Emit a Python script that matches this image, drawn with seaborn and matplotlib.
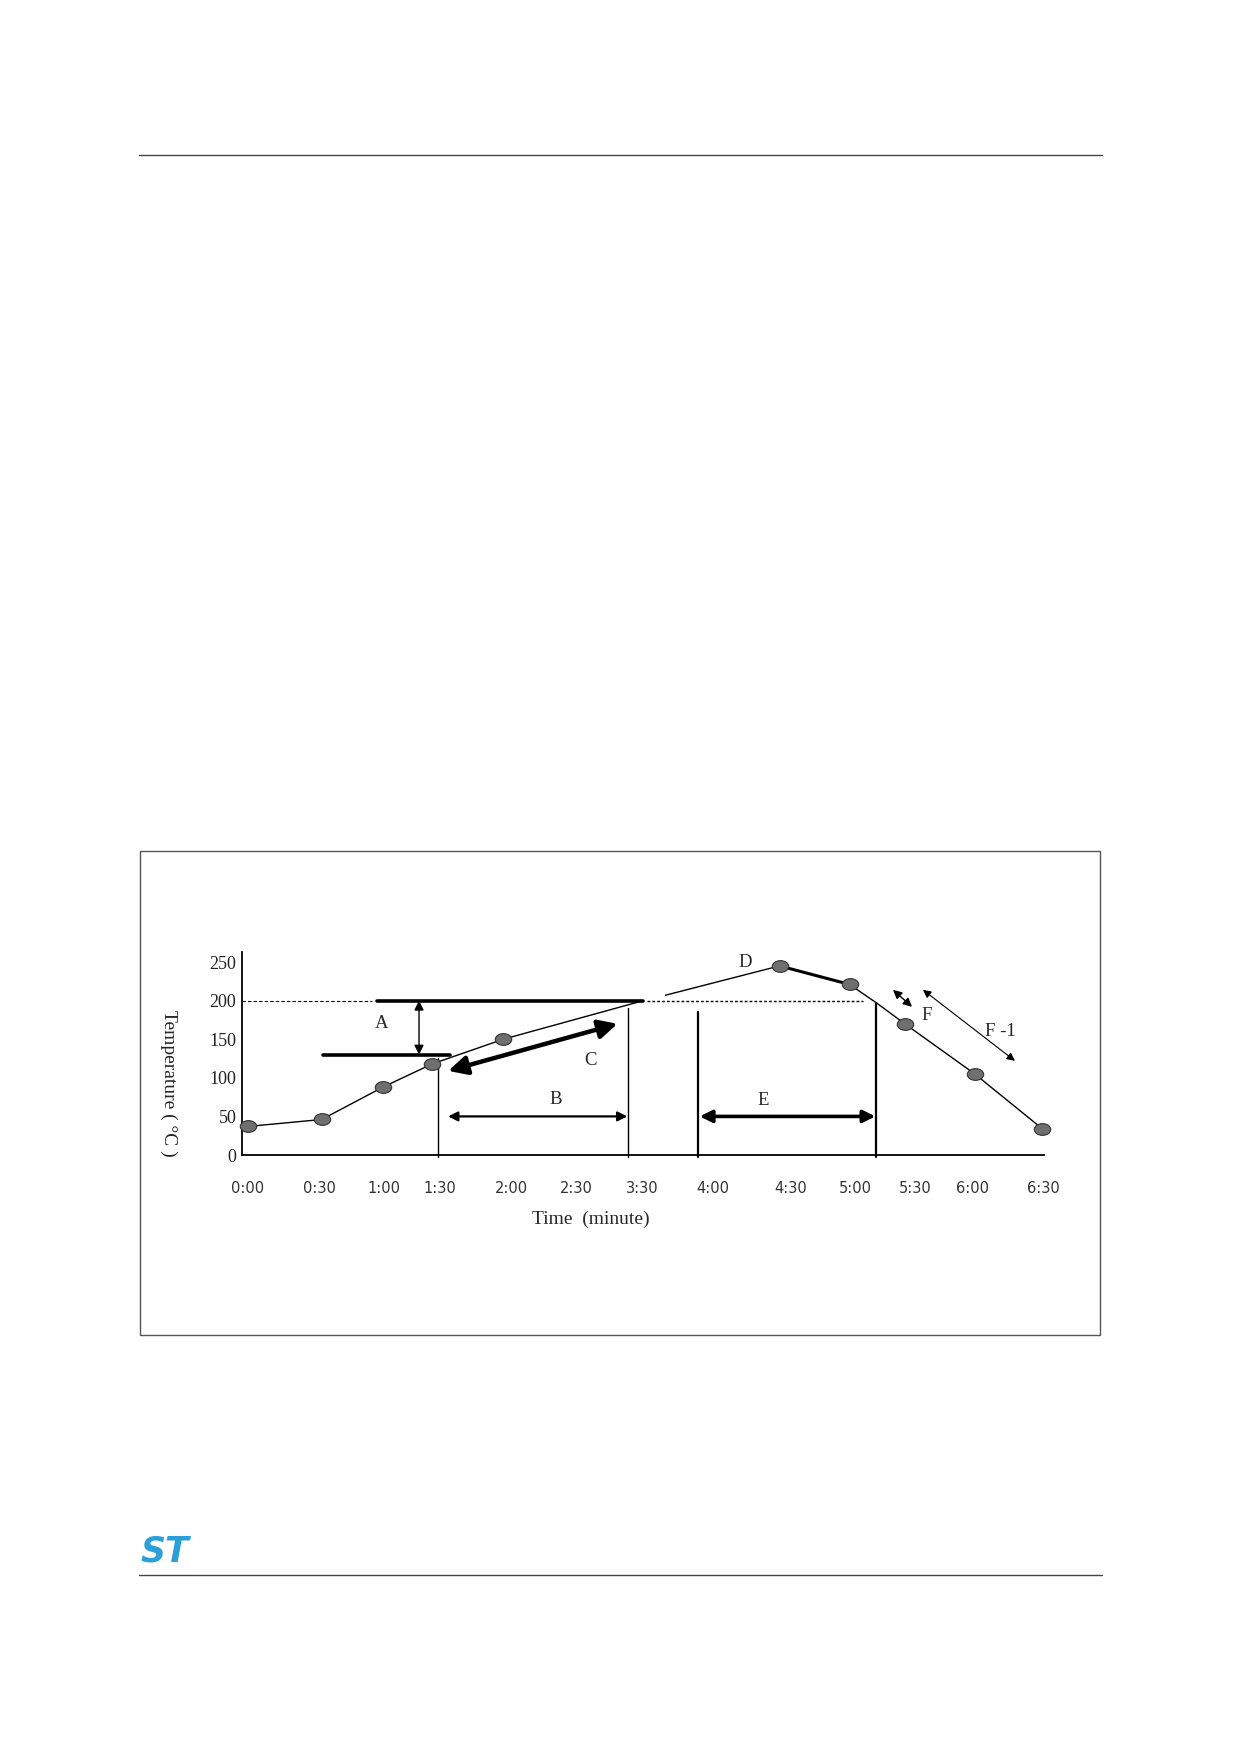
#%%
import numpy as np
import pandas as pd
import seaborn as sns
import matplotlib.pyplot as plt
from matplotlib.path import Path
from matplotlib.patches import Rectangle
from matplotlib.lines import Line2D

# x positions are "drawn minutes" - the schematic does not space the ticks evenly
tick_labels = ['0:00', '0:30', '1:00', '1:30', '2:00', '2:30', '3:30',
               '4:00', '4:30', '5:00', '5:30', '6:00', '6:30']
tick_pos = [0.0, 0.578, 1.108, 1.564, 2.142, 2.671, 3.209,
            3.787, 4.422, 4.943, 5.432, 5.904, 6.482]
y_ticks = [0, 50, 100, 150, 200, 250]

# measured profile points (grey dots)
point_x = [0.0, 0.60, 1.10, 1.50, 2.08, 4.33, 4.90, 5.35, 5.92, 6.47]
point_t = [37, 46, 88, 118, 150, 245, 221, 170, 105, 34]

# the drawn curve, in three pieces
rise_x = [0.0, 0.60, 1.10, 1.50, 2.08, 3.22]
rise_t = [37, 46, 88, 118, 150, 200]
peak_x = [3.40, 4.33]
peak_t = [207, 245]
hold_x = [4.33, 4.90]
hold_t = [245, 221]
cool_x = [4.90, 5.12, 5.35, 5.92, 6.47]
cool_t = [221, 197, 170, 105, 34]

# reference levels
ref_level = 200
low_level = 130
gap_level = 50

#%%
sns.set_style('white')
plt.rcParams['font.family'] = ['Liberation Serif', 'DejaVu Sans']

fig = plt.figure(figsize=(12.39, 17.54), dpi=100)
ax = fig.add_axes([242 / 1239, 599 / 1754, 802 / 1239, 203 / 1754])

# profile line
sns.lineplot(x=rise_x, y=rise_t, color='black', lw=1, ax=ax, sort=False)
sns.lineplot(x=peak_x, y=peak_t, color='black', lw=1, ax=ax, sort=False)
sns.lineplot(x=hold_x, y=hold_t, color='black', lw=2.2, ax=ax, sort=False)
sns.lineplot(x=cool_x, y=cool_t, color='black', lw=1, ax=ax, sort=False)

# grey elliptical dots
circ = Path.unit_circle()
ell = Path(circ.vertices * np.array([1.4, 1.0]), circ.codes)
dots = pd.DataFrame({'x': point_x, 't': point_t})
sns.scatterplot(data=dots, x='x', y='t', marker=ell, s=140, color='#6f6f6f',
                edgecolor='#333333', linewidth=0.8, ax=ax, zorder=5, clip_on=False)

# 200 degree reference lines
ax.plot([-0.05, 1.01], [ref_level, ref_level], color='black', lw=0.8, ls=(0, (3, 2)), clip_on=False)
ax.plot([1.05, 3.22], [ref_level, ref_level], color='black', lw=2.6, clip_on=False)
ax.plot([3.25, 5.01], [ref_level, ref_level], color='black', lw=1, ls=(0, (2, 1.5)), clip_on=False)
ax.plot([0.61, 1.645], [low_level, low_level], color='black', lw=2.6, clip_on=False)

# vertical markers
for vx, vtop, vw in [(1.548, 126, 1), (3.095, 190, 1), (3.665, 185, 1.6), (5.115, 197, 1.6)]:
    ax.plot([vx, vx], [vtop, -3], color='black', lw=vw, clip_on=False)


def dbl_arrow(p0, p1, lw, scale):
    ax.annotate('', xy=p1, xytext=p0,
                arrowprops=dict(arrowstyle='<|-|>', color='black', lw=lw,
                                mutation_scale=scale, shrinkA=0, shrinkB=0))


dbl_arrow((1.393, ref_level), (1.393, low_level), 1, 14)        # A
dbl_arrow((1.63, gap_level), (3.09, gap_level), 1.6, 14)        # B
dbl_arrow((1.63, 109), (3.01, 170), 3.2, 28)                    # C
dbl_arrow((3.68, gap_level), (5.11, gap_level), 2.6, 18)        # E
dbl_arrow((5.254, 214), (5.409, 192), 1, 13)                    # F
dbl_arrow((5.498, 214), (6.247, 122), 0.8, 12)                  # F-1

for lab, lx, ly in [('A', 1.09, 171), ('B', 2.51, 72), ('C', 2.79, 123),
                    ('D', 4.05, 250), ('E', 4.195, 71), ('F', 5.53, 181),
                    ('F -1', 6.125, 160)]:
    ax.text(lx, ly, lab, fontsize=13.5, ha='center', va='center')

# axes
ax.set_xlim(-0.049, 6.484)
ax.set_ylim(0, 263)
ax.set_xticks(tick_pos)
ax.set_xticklabels(tick_labels, family='DejaVu Sans', fontsize=10.5, color='#333333')
ax.set_yticks(y_ticks)
ax.set_yticklabels([str(v) for v in y_ticks], fontsize=13, color='#222222')
ax.tick_params(axis='x', direction='in', length=7, width=1, pad=19, color='black')
ax.tick_params(axis='y', direction='in', length=9, width=1, pad=4, color='black')
for side in ['top', 'right']:
    ax.spines[side].set_visible(False)
for side in ['left', 'bottom']:
    ax.spines[side].set_color('black')
    ax.spines[side].set_linewidth(1.3)

ax.set_xlabel('Time  (minute)', fontsize=14)
ax.xaxis.set_label_coords(0.435, -0.276)
ax.set_ylabel('Temperature ( °C )', fontsize=14, rotation=270, ha='center', va='center')
ax.yaxis.set_label_coords(-0.092, 0.355)

# page furniture: frame, header and footer rules, logo
fig.add_artist(Rectangle((140 / 1239, 419 / 1754), 960 / 1239, 484 / 1754,
                         transform=fig.transFigure, fill=False, ec='#555555', lw=1))
fig.add_artist(Line2D([139 / 1239, 1102 / 1239], [1599 / 1754, 1599 / 1754],
                      transform=fig.transFigure, color='#444444', lw=1))
fig.add_artist(Line2D([139 / 1239, 1102 / 1239], [179 / 1754, 179 / 1754],
                      transform=fig.transFigure, color='#444444', lw=1))
fig.text(140 / 1239, 186 / 1754, 'ST', family='DejaVu Sans', fontsize=25,
         fontweight='bold', style='italic', color='#2a9fd8', ha='left', va='bottom')

plt.savefig('out.png', dpi=100)
